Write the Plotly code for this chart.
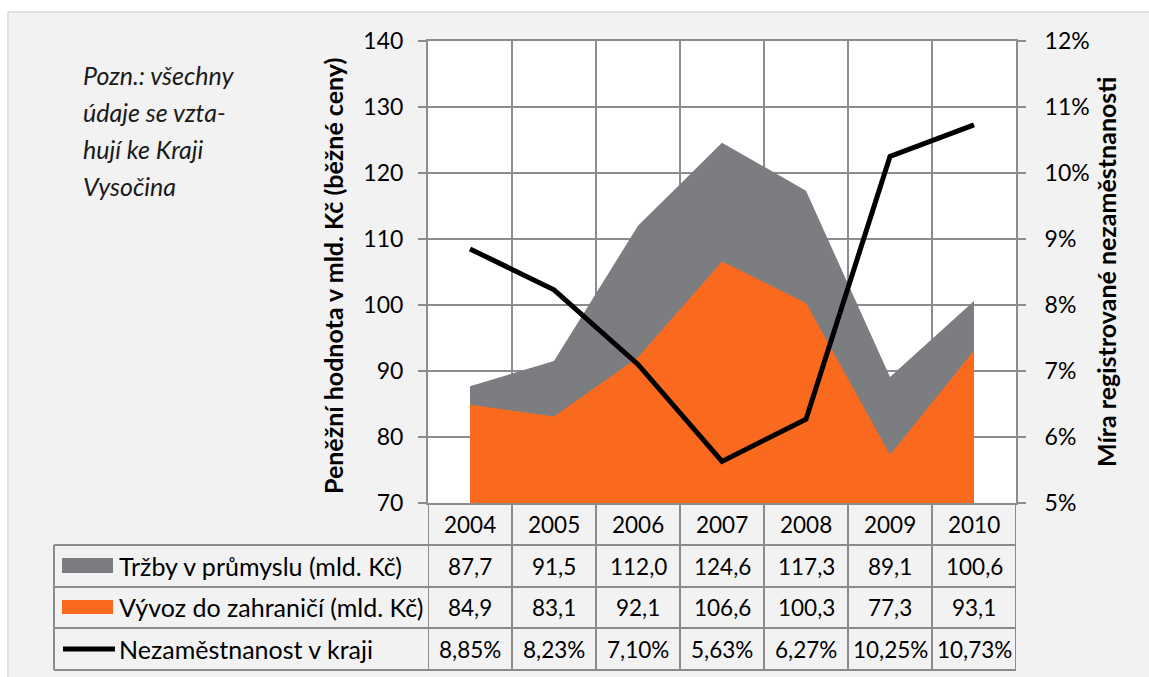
import plotly.graph_objects as go

years = ["2004", "2005", "2006", "2007", "2008", "2009", "2010"]
trzby = [87.7, 91.5, 112.0, 124.6, 117.3, 89.1, 100.6]
vyvoz = [84.9, 83.1, 92.1, 106.6, 100.3, 77.3, 93.1]
nezam = [8.85, 8.23, 7.10, 5.63, 6.27, 10.25, 10.73]

row_labels = ["Tržby v průmyslu (mld. Kč)", "Vývoz do zahraničí (mld. Kč)", "Nezaměstnanost v kraji"]
note_lines = ["Pozn.: všechny", "údaje se vzta-", "hují ke Kraji", "Vysočina"]
left_title = "Peněžní hodnota v mld. Kč (běžné ceny)"
right_title = "Míra registrované nezaměstnanosti"

W, H = 1149, 677
L, R, T, B = 428, 1016, 41, 503
GRAY = "#7c7d81"
ORANGE = "#f96a1f"
GRID = "#8c8c8c"
FONT = "Lato"

def px(x):
    return (x - L) / (R - L)

def py(y):
    return (B - y) / (B - T)

xs = list(range(len(years)))

fig = go.Figure()
fig.add_trace(go.Scatter(x=xs, y=trzby, fill="tozeroy", mode="lines",
                         line=dict(width=0, color=GRAY), fillcolor=GRAY,
                         name=row_labels[0], showlegend=False))
fig.add_trace(go.Scatter(x=xs, y=vyvoz, fill="tozeroy", mode="lines",
                         line=dict(width=0, color=ORANGE), fillcolor=ORANGE,
                         name=row_labels[1], showlegend=False))
fig.add_trace(go.Scatter(x=xs, y=[v / 100 for v in nezam], mode="lines",
                         line=dict(width=5, color="black"), yaxis="y2",
                         name=row_labels[2], showlegend=False))

shapes = []
annotations = []

# white strips outside the gray chart frame
shapes.append(dict(type="rect", xref="paper", yref="paper", x0=px(0), x1=px(W), y0=py(12), y1=py(0),
                   fillcolor="white", line=dict(width=0), layer="below"))
shapes.append(dict(type="rect", xref="paper", yref="paper", x0=px(0), x1=px(8), y0=py(H), y1=py(0),
                   fillcolor="white", line=dict(width=0), layer="below"))
shapes.append(dict(type="line", xref="paper", yref="paper", x0=px(8), x1=px(W), y0=py(12), y1=py(12),
                   line=dict(color="#d9d9d9", width=1.5)))
shapes.append(dict(type="line", xref="paper", yref="paper", x0=px(8), x1=px(8), y0=py(12), y1=py(H),
                   line=dict(color="#d9d9d9", width=1.5)))

# data table grid
row_y = [545, 587, 628, 670]
for y in row_y:
    shapes.append(dict(type="line", xref="paper", yref="paper", x0=px(54), x1=px(R), y0=py(y), y1=py(y),
                       line=dict(color=GRID, width=2)))
shapes.append(dict(type="line", xref="paper", yref="paper", x0=px(54), x1=px(54), y0=py(545), y1=py(670),
                   line=dict(color=GRID, width=2)))
for i in range(len(years) + 1):
    shapes.append(dict(type="line", xref="x", yref="paper", x0=i - 0.5, x1=i - 0.5, y0=py(B), y1=py(670),
                       line=dict(color=GRID, width=2)))

# legend keys
shapes.append(dict(type="rect", xref="paper", yref="paper", x0=px(62), x1=px(113), y0=py(573), y1=py(558),
                   fillcolor=GRAY, line=dict(width=0)))
shapes.append(dict(type="rect", xref="paper", yref="paper", x0=px(62), x1=px(113), y0=py(614), y1=py(600),
                   fillcolor=ORANGE, line=dict(width=0)))
shapes.append(dict(type="line", xref="paper", yref="paper", x0=px(63), x1=px(115), y0=py(649), y1=py(649),
                   line=dict(color="black", width=5)))

nfont = dict(family=FONT, size=22.5, color="black")
lfont = dict(family=FONT, size=25, color="black")
# year header
for i, yr in enumerate(years):
    annotations.append(dict(x=i, y=py(524), xref="x", yref="paper", text=yr, showarrow=False,
                            font=nfont, xanchor="center", yanchor="middle"))

rows = [
    [f"{v:.1f}".replace(".", ",") for v in trzby],
    [f"{v:.1f}".replace(".", ",") for v in vyvoz],
    [f"{v:.2f}%".replace(".", ",") for v in nezam],
]
row_centers = [566, 607, 649]
for r, (lab, vals, yc) in enumerate(zip(row_labels, rows, row_centers)):
    annotations.append(dict(x=px(117), y=py(yc), xref="paper", yref="paper", text=lab, showarrow=False,
                            font=lfont, xanchor="left", yanchor="middle"))
    for i, v in enumerate(vals):
        annotations.append(dict(x=i, y=py(yc), xref="x", yref="paper", text=v, showarrow=False,
                                font=nfont, xanchor="center", yanchor="middle"))

# note
for k, line in enumerate(note_lines):
    annotations.append(dict(x=px(81), y=py(75 + 37 * k), xref="paper", yref="paper",
                            text=f"<i>{line}</i>", showarrow=False,
                            font=dict(family=FONT, size=25, color="#1a1a1a"),
                            xanchor="left", yanchor="middle"))

# axis titles
annotations.append(dict(x=px(333), y=py(276), xref="paper", yref="paper", text=f"<b>{left_title}</b>",
                        showarrow=False, textangle=-90, font=dict(family=FONT, size=25, color="black"),
                        xanchor="center", yanchor="middle"))
annotations.append(dict(x=px(1106), y=py(272), xref="paper", yref="paper", text=f"<b>{right_title}</b>",
                        showarrow=False, textangle=-90, font=dict(family=FONT, size=25, color="black"),
                        xanchor="center", yanchor="middle"))

fig.update_layout(
    width=W, height=H,
    margin=dict(l=L, r=W - R, t=T, b=H - B, pad=0),
    paper_bgcolor="#f2f2f2",
    plot_bgcolor="white",
    font=dict(family=FONT, size=22, color="black"),
    showlegend=False,
    xaxis=dict(range=[-0.5, len(years) - 0.5], tickvals=[i + 0.5 for i in range(len(years) - 1)],
               showticklabels=False, ticks="", showgrid=True, gridcolor=GRID, gridwidth=2,
               showline=True, linecolor=GRID, linewidth=2, mirror=True, zeroline=False, fixedrange=True),
    yaxis=dict(range=[70, 140], dtick=10, tick0=70, showgrid=True, gridcolor=GRID, gridwidth=2,
               showline=True, linecolor=GRID, linewidth=2, ticks="outside", ticklen=8, tickwidth=2,
               tickcolor=GRID, zeroline=False, ticklabelstandoff=10,
               tickfont=dict(family=FONT, size=23, color="black")),
    yaxis2=dict(range=[0.05, 0.12], dtick=0.01, tick0=0.05, tickformat=".0%", overlaying="y", side="right",
                showgrid=False, showline=True, linecolor=GRID, linewidth=2, ticks="outside", ticklen=8,
                tickwidth=2, tickcolor=GRID, zeroline=False, ticklabelstandoff=14,
                tickfont=dict(family=FONT, size=23, color="black")),
    shapes=shapes,
    annotations=annotations,
)

fig.write_html("out.html", config={"displayModeBar": False},
               post_script="document.body.style.margin='0';")
